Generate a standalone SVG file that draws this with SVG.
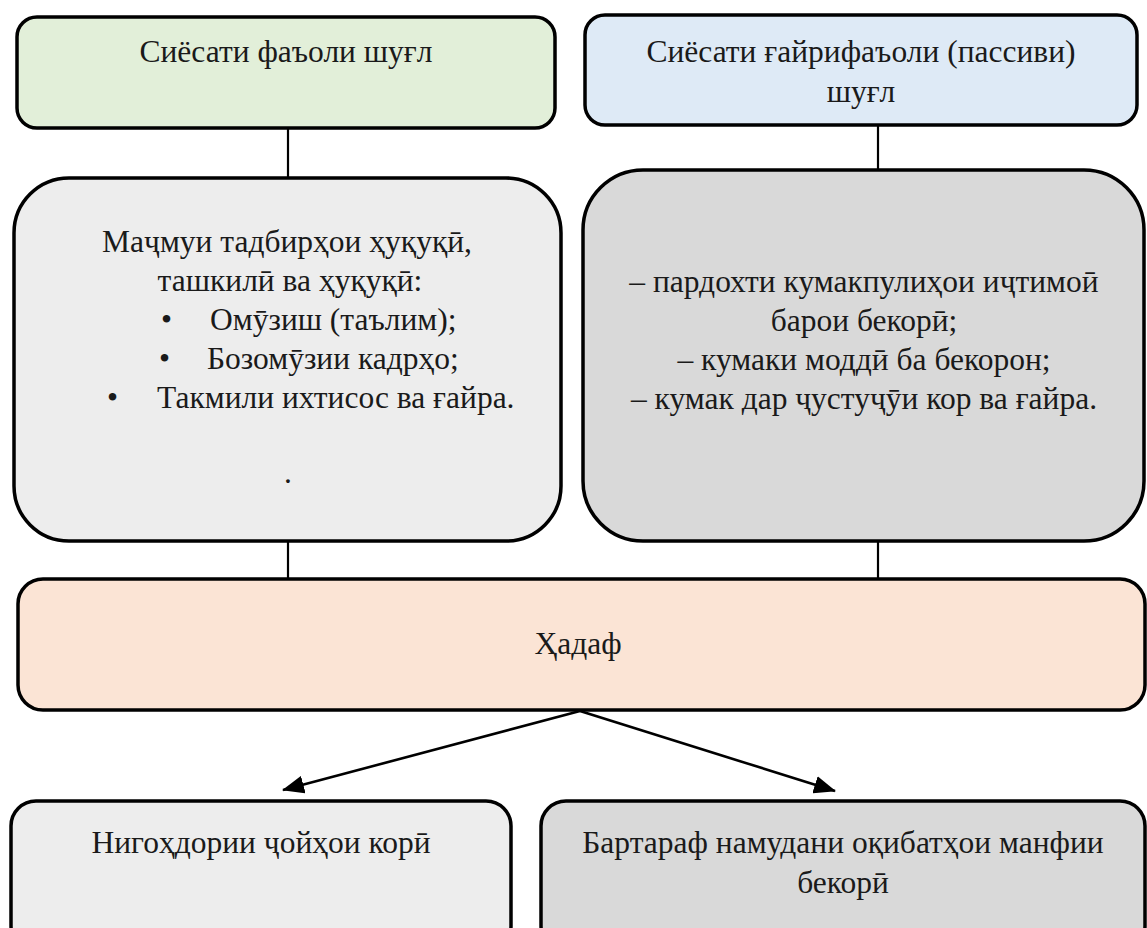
<svg xmlns="http://www.w3.org/2000/svg" width="1147" height="928" viewBox="0 0 1147 928">
<defs>
<style>
.box{stroke:#000;stroke-width:3.5}
.t{font-family:"Liberation Serif","Times New Roman",serif;font-size:31.5px;fill:#1a1a1a}
.m{text-anchor:middle}
.conn line{stroke:#000;stroke-width:2.2}
.arrow{stroke-width:2.6 !important}
</style>
<marker id="ah" viewBox="0 0 22 18" refX="21" refY="9" markerWidth="22" markerHeight="18" orient="auto" markerUnits="userSpaceOnUse">
<path d="M0,0 L22,9 L0,18 z" fill="#000"/>
</marker>
</defs>
<rect width="1147" height="928" fill="#fff"/>
<g id="connectors" class="conn">
<line x1="288" y1="128" x2="288" y2="178"/>
<line x1="878" y1="125" x2="878" y2="170"/>
<line x1="288" y1="541" x2="288" y2="579"/>
<line x1="878" y1="541" x2="878" y2="579"/>
<line class="arrow" x1="580" y1="711" x2="283" y2="790" marker-end="url(#ah)"/>
<line class="arrow" x1="580" y1="711" x2="835" y2="791" marker-end="url(#ah)"/>
</g>
<g id="active">
<rect class="box" x="17" y="17" width="538" height="111" rx="20" fill="#e2efd9"/>
<text class="t m" x="286" y="62">Сиёсати фаъоли шуғл</text>
</g>
<g id="passive">
<rect class="box" x="585" y="15" width="552" height="110" rx="20" fill="#deeaf6"/>
<text class="t m" x="861" y="62">Сиёсати ғайрифаъоли (пассиви)</text>
<text class="t m" x="861" y="102">шуғл</text>
</g>
<g id="measures">
<rect class="box" x="14" y="178" width="547" height="363" rx="55" fill="#ededed"/>
<text class="t m" x="287" y="252">Маҷмуи тадбирҳои ҳуқуқӣ,</text>
<text class="t m" x="290" y="291">ташкилӣ ва ҳуқуқӣ:</text>
<text class="t" x="161" y="330">•</text>
<text class="t" x="210" y="330">Омӯзиш (таълим);</text>
<text class="t" x="159" y="369">•</text>
<text class="t" x="207" y="369">Бозомӯзии кадрҳо;</text>
<text class="t" x="107" y="408">•</text>
<text class="t" x="157" y="408">Такмили ихтисос ва ғайра.</text>
<text class="t m" x="288" y="483">.</text>
</g>
<g id="benefits">
<rect class="box" x="583" y="170" width="561" height="371" rx="60" fill="#d9d9d9"/>
<text class="t m" x="864" y="292">– пардохти кумакпулиҳои иҷтимоӣ</text>
<text class="t m" x="864" y="331">барои бекорӣ;</text>
<text class="t m" x="864" y="370">– кумаки моддӣ ба бекорон;</text>
<text class="t m" x="864" y="409">– кумак дар ҷустуҷӯи кор ва ғайра.</text>
</g>
<g id="goal">
<rect class="box" x="18" y="579" width="1127" height="131" rx="25" fill="#fbe4d5"/>
<text class="t m" x="578" y="654">Ҳадаф</text>
</g>
<g id="jobs">
<rect class="box" x="11" y="801" width="500" height="150" rx="25" fill="#ededed"/>
<text class="t m" x="261" y="853">Нигоҳдории ҷойҳои корӣ</text>
</g>
<g id="eliminate">
<rect class="box" x="541" y="801" width="604" height="150" rx="25" fill="#d9d9d9"/>
<text class="t m" x="843" y="853">Бартараф намудани оқибатҳои манфии</text>
<text class="t m" x="843" y="893">бекорӣ</text>
</g>
</svg>
